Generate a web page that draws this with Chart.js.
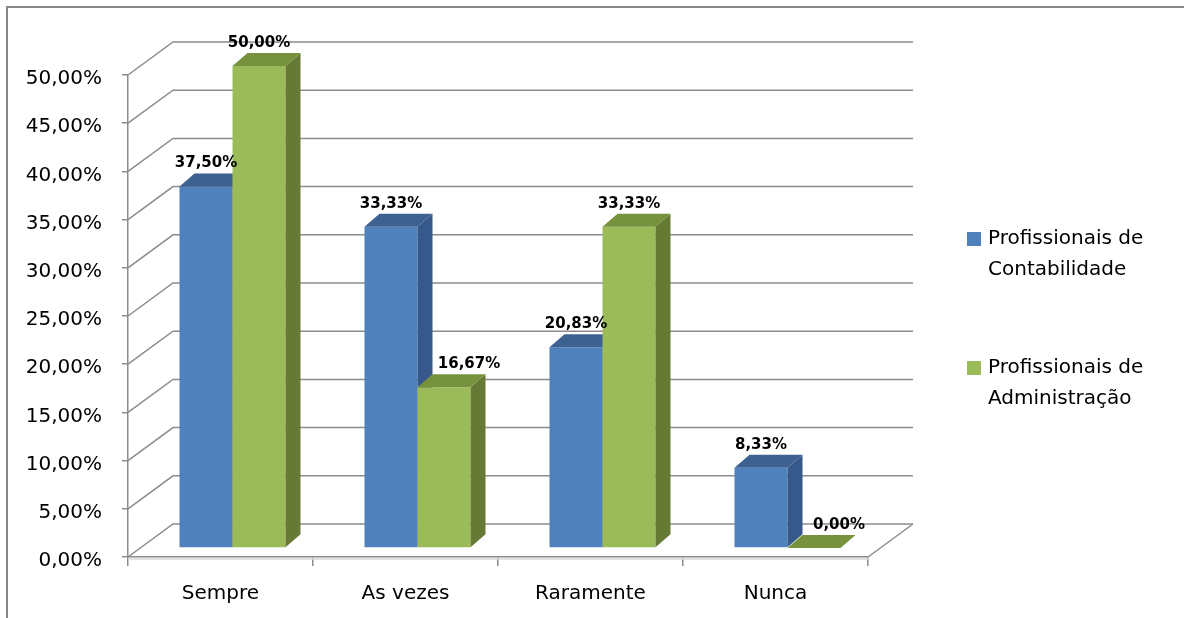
<!DOCTYPE html>
<html>
<head>
<meta charset="utf-8">
<script src="https://cdn.jsdelivr.net/npm/chart.js@4"></script>
<style>
  body { margin: 0; background: #fff; }
</style>
</head>
<body>
<canvas id="myChart" width="1184" height="618"></canvas>
<script>
var categorias = ["Sempre", "As vezes", "Raramente", "Nunca"];
var contabilidade = [37.50, 33.33, 20.83, 8.33];
var administracao = [50.00, 16.67, 33.33, 0.00];
var nomesSeries = [["Profissionais de", "Contabilidade"], ["Profissionais de", "Administração"]];

// cores das faces: frente, lado, topo
var cores = [
  { front: "#4F81BD", side: "#36588A", top: "#3D6190" },
  { front: "#9BBB59", side: "#667A36", top: "#77923D" }
];

var barShift = { x: 12, y: -9 };   // posicao da face frontal das barras
var barDepth = { x: 15, y: -13 };  // profundidade das barras
var wallDepth = { x: 45, y: -33 }; // parede de fundo
var gridColor = "#8c8c8c";

function fmt(v) {
  return v.toFixed(2).replace(".", ",") + "%";
}

function drawFaces(ctx, bar, c) {
  var p = bar.getProps(["x", "y", "base", "width"], true);
  var l = p.x - p.width / 2, r = p.x + p.width / 2;
  var top = Math.min(p.y, p.base), bot = Math.max(p.y, p.base);
  ctx.fillStyle = c.side;
  ctx.beginPath();
  ctx.moveTo(r, top);
  ctx.lineTo(r + barDepth.x, top + barDepth.y);
  ctx.lineTo(r + barDepth.x, bot + barDepth.y);
  ctx.lineTo(r, bot);
  ctx.closePath();
  ctx.fill();
  ctx.fillStyle = c.top;
  ctx.beginPath();
  ctx.moveTo(l, top);
  ctx.lineTo(l + barDepth.x, top + barDepth.y);
  ctx.lineTo(r + barDepth.x, top + barDepth.y);
  ctx.lineTo(r, top);
  ctx.closePath();
  ctx.fill();
}

var fake3d = {
  id: "fake3d",
  beforeDraw: function (chart) {
    var ctx = chart.ctx;
    ctx.save();
    ctx.fillStyle = "#fff";
    ctx.fillRect(0, 0, chart.width, chart.height);
    ctx.strokeStyle = "#878787";
    ctx.lineWidth = 2;
    ctx.beginPath();
    ctx.moveTo(7, chart.height);
    ctx.lineTo(7, 7);
    ctx.lineTo(chart.width, 7);
    ctx.stroke();
    ctx.restore();
  },
  beforeDatasetsDraw: function (chart) {
    var ctx = chart.ctx;
    var a = chart.chartArea;
    var ys = chart.scales.y;
    ctx.save();
    ctx.strokeStyle = gridColor;
    ctx.lineWidth = 1.5;
    ys.ticks.forEach(function (t) {
      var py = ys.getPixelForValue(t.value);
      ctx.beginPath();
      ctx.moveTo(a.left, py);
      ctx.lineTo(a.left + wallDepth.x, py + wallDepth.y);
      ctx.lineTo(a.right + wallDepth.x, py + wallDepth.y);
      ctx.stroke();
    });
    // borda direita do piso
    ctx.beginPath();
    ctx.moveTo(a.right, a.bottom);
    ctx.lineTo(a.right + wallDepth.x, a.bottom + wallDepth.y);
    ctx.stroke();
    ctx.strokeStyle = "#d9d9d9";
    ctx.beginPath();
    ctx.moveTo(a.left, a.bottom + 2);
    ctx.lineTo(a.right, a.bottom + 2);
    ctx.stroke();
    ctx.restore();
  },
  // as barras sao desenhadas depois, em ordem, com as faces 3D
  beforeDatasetDraw: function () {
    return false;
  },
  afterDatasetsDraw: function (chart) {
    var ctx = chart.ctx;
    ctx.save();
    ctx.translate(barShift.x, barShift.y);
    chart.data.datasets.forEach(function (ds, di) {
      var meta = chart.getDatasetMeta(di);
      meta.data.forEach(function (bar) {
        bar.draw(ctx);
        drawFaces(ctx, bar, cores[di]);
      });
    });
    ctx.restore();

    ctx.save();
    ctx.font = "bold 15px 'DejaVu Sans'";
    ctx.fillStyle = "#000";
    ctx.textAlign = "center";
    ctx.textBaseline = "middle";
    chart.data.datasets.forEach(function (ds, di) {
      var meta = chart.getDatasetMeta(di);
      meta.data.forEach(function (bar, i) {
        var shift = 0;
        if (di === 1 && ds.data[i] < chart.data.datasets[0].data[i]) shift = 25;
        var tx = bar.x + barShift.x + shift;
        var ty = bar.y + barShift.y + barDepth.y - 10;
        ctx.fillText(fmt(ds.data[i]), tx, ty);
      });
    });
    ctx.restore();
  },
  afterDraw: function (chart) {
    var ctx = chart.ctx;
    var legendY = [239, 368];
    ctx.save();
    ctx.font = "20px 'DejaVu Sans'";
    ctx.textBaseline = "middle";
    ctx.textAlign = "left";
    nomesSeries.forEach(function (linhas, i) {
      var y = legendY[i];
      ctx.fillStyle = cores[i].front;
      ctx.fillRect(967, y - 7, 14, 14);
      ctx.fillStyle = "#000";
      linhas.forEach(function (t, k) {
        ctx.fillText(t, 988, y + k * 31);
      });
    });
    ctx.restore();
  }
};

new Chart("myChart", {
  type: "bar",
  data: {
    labels: categorias,
    datasets: [{
      label: nomesSeries[0].join(" "),
      data: contabilidade,
      backgroundColor: cores[0].front,
      clip: false
    }, {
      label: nomesSeries[1].join(" "),
      data: administracao,
      backgroundColor: cores[1].front,
      clip: false
    }]
  },
  options: {
    responsive: false,
    animation: false,
    devicePixelRatio: 1,
    categoryPercentage: 0.573,
    barPercentage: 1,
    layout: { padding: { left: 0, right: 316, top: 75, bottom: 0 } },
    plugins: {
      legend: { display: false },
      tooltip: { enabled: false }
    },
    scales: {
      x: {
        afterFit: function (s) { s.height = 61; },
        grid: { drawOnChartArea: false, color: gridColor, lineWidth: 1.5, tickLength: 9, offset: true },
        border: { color: gridColor, width: 1.5 },
        ticks: { color: "#000", font: { family: "DejaVu Sans", size: 20 }, padding: 16 }
      },
      y: {
        min: 0,
        max: 50,
        afterFit: function (s) { s.width = 128; },
        grid: { drawOnChartArea: false, color: gridColor, lineWidth: 1.5, tickLength: 6 },
        border: { color: gridColor, width: 1.5 },
        ticks: {
          stepSize: 5,
          color: "#000",
          padding: 20,
          labelOffset: 4,
          font: { family: "DejaVu Sans", size: 20 },
          callback: function (v) { return fmt(v); }
        }
      }
    }
  },
  plugins: [fake3d]
});
</script>
</body>
</html>
